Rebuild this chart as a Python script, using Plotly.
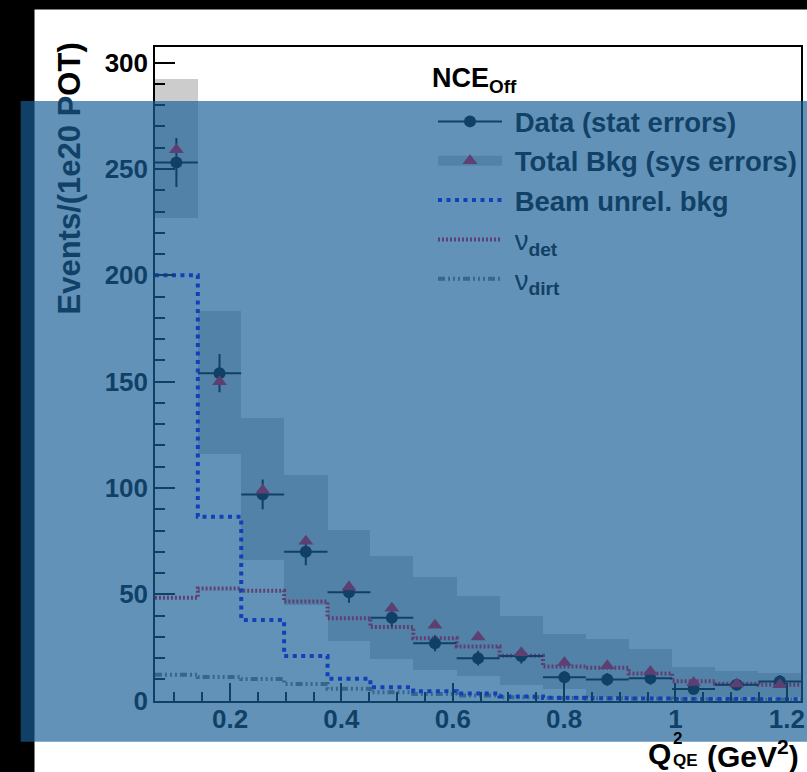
import plotly.graph_objects as go

# ---------------- data ----------------
bin_edges = [0.065, 0.142, 0.220, 0.297, 0.375, 0.452, 0.529, 0.607, 0.684,
             0.762, 0.839, 0.916, 0.994, 1.071, 1.149, 1.226]
data_vals = [253, 154, 97, 70, 51, 39, 27, 20, 21, 11, 10, 10.5, 5.5, 7.5, 9]
data_errs = [11.5, 9, 7, 6.3, 5, 4.3, 3.8, 3.5, 3.5, 3, 3, 3, 2.5, 2.5, 3]
bkg_vals = [259, 150, 99, 75, 53.5, 43.5, 35.5, 30, 22.5, 18, 16.4, 13.7, 8.6, 7.8, 7.5]
bkg_hi = [292, 183, 133, 106, 80, 68, 58, 49, 39.5, 31, 29, 24.4, 15.8, 14, 13]
bkg_lo = [227, 116, 66, 45, 28, 19.7, 14.5, 11.4, 7.2, 5.2, 1.5, 1.5, 1.5, 1.5, 1.5]
beam_vals = [200, 86.5, 38, 21, 10.3, 6.3, 4.4, 3.4, 2, 1.4, 1.2, 1, 0.8, 0.8, 0.7]
det_vals = [48.4, 52.8, 51.7, 46.6, 38.8, 34.6, 29.4, 25.5, 21.1, 16.1, 15.5, 12.8, 9.1, 8, 7.5]
dirt_vals = [12.2, 11.1, 10.2, 7.8, 5.6, 4.0, 3.2, 2.4, 1.6, 1.3, 1.0, 0.9, 0.7, 0.6, 0.6]

x_ticks = [0.2, 0.4, 0.6, 0.8, 1.0, 1.2]
x_tick_text = ["0.2", "0.4", "0.6", "0.8", "1", "1.2"]
y_ticks = [0, 50, 100, 150, 200, 250, 300]

# ---------------- styles ----------------
W, H = 807, 772
OV_RGB = (25, 95, 150)
OV_A = 0.68
RED = (235, 0, 40)
BLUE = (0, 0, 255)
GRAY = (120, 120, 120)
BAND = (204, 204, 204)
BLACK = (0, 0, 0)
FONT = "Liberation Sans"


def rgb(c):
    return "rgb(%d,%d,%d)" % c


def blend(c):
    return "rgb(%d,%d,%d)" % tuple(round(OV_A * o + (1 - OV_A) * v) for o, v in zip(OV_RGB, c))


def px(x):
    return x / W


def py(y):
    return 1 - y / H


centers = [(a + b) / 2 for a, b in zip(bin_edges[:-1], bin_edges[1:])]
half_w = [(b - a) / 2 for a, b in zip(bin_edges[:-1], bin_edges[1:])]
widths = [b - a for a, b in zip(bin_edges[:-1], bin_edges[1:])]

fig = go.Figure()

# systematic band
fig.add_trace(go.Bar(x=centers, y=[h - l for h, l in zip(bkg_hi, bkg_lo)], base=bkg_lo,
                     width=widths, marker=dict(color=rgb(BAND), line=dict(width=0)),
                     showlegend=False, hoverinfo="skip"))


def step(vals, color, dash, width=4):
    fig.add_trace(go.Scatter(x=bin_edges, y=vals + [vals[-1]], mode="lines", line_shape="hv",
                             line=dict(color=color, width=width, dash=dash),
                             showlegend=False, hoverinfo="skip"))


DIRT_DASH = "7px,3px,2px,3px,2px,3px,2px,3px"
DET_DASH = "2px,2px"
BEAM_DASH = "4px,4.5px"
step(dirt_vals, rgb(GRAY), DIRT_DASH)
step(det_vals, rgb(RED), DET_DASH)
step(beam_vals, rgb(BLUE), BEAM_DASH)

# data points
fig.add_trace(go.Scatter(x=centers, y=data_vals, mode="markers",
                         marker=dict(symbol="circle", size=12, color="black"),
                         error_y=dict(type="data", array=data_errs, color="black", thickness=2, width=0),
                         error_x=dict(type="data", array=half_w, color="black", thickness=2, width=0),
                         showlegend=False, hoverinfo="skip"))
# background triangles
fig.add_trace(go.Scatter(x=centers, y=bkg_vals, mode="markers",
                         marker=dict(symbol="triangle-up", size=13, color=rgb(RED)),
                         showlegend=False, hoverinfo="skip"))

# legend entries (colours as seen through the overlay)
SP = "&nbsp;"
fig.add_trace(go.Scatter(x=[None], y=[None], mode="lines+markers", name=SP + "<b>Data (stat errors)</b>",
                         line=dict(color=blend(BLACK), width=2),
                         marker=dict(symbol="circle", size=12, color=blend(BLACK)), legendgroup="a"))
fig.add_trace(go.Scatter(x=[None], y=[None], mode="lines+markers", name=SP + "<b>Total Bkg (sys errors)</b>",
                         line=dict(color=blend(BAND), width=28),
                         marker=dict(symbol="triangle-up", size=13, color=blend(RED)), legendgroup="b"))
fig.add_trace(go.Scatter(x=[None], y=[None], mode="lines", name=SP + "<b>Beam unrel. bkg</b>",
                         line=dict(color=blend(BLUE), width=4, dash=BEAM_DASH), legendgroup="c"))
fig.add_trace(go.Scatter(x=[None], y=[None], mode="lines", name=SP + "ν<b><sub>det</sub></b>",
                         line=dict(color=blend(RED), width=4, dash=DET_DASH), legendgroup="d"))
fig.add_trace(go.Scatter(x=[None], y=[None], mode="lines", name=SP + "ν<b><sub>dirt</sub></b>",
                         line=dict(color=blend(GRAY), width=4, dash=DIRT_DASH), legendgroup="e"))

axis_common = dict(showline=True, linecolor="black", linewidth=1.5, mirror=True, automargin=False,
                   showgrid=False, zeroline=False, ticks="inside", tickcolor="black",
                   tickwidth=1.5, tickfont=dict(family=FONT, size=26, color="black", weight="bold"))

fig.update_layout(
    width=W, height=H, autosize=False,
    margin=dict(l=0, r=0, t=0, b=0, pad=0),
    paper_bgcolor="white", plot_bgcolor="white",
    bargap=0,
    xaxis=dict(domain=[px(155), px(801)], range=[0.0651, 1.2255],
               tickvals=x_ticks, ticktext=x_tick_text, ticklen=18, ticklabelstandoff=-6,
               minor=dict(dtick=0.05, tick0=0, ticklen=9, ticks="inside", tickcolor="black", tickwidth=1.5),
               **axis_common),
    yaxis=dict(domain=[py(700.7), py(47.3)], range=[0, 307.2],
               tickvals=y_ticks, ticklen=20,
               minor=dict(dtick=10, tick0=0, ticklen=10, ticks="inside", tickcolor="black", tickwidth=1.5),
               **axis_common),
    showlegend=True,
    legend=dict(x=px(433), y=py(97), xanchor="left", yanchor="top",
                bgcolor="rgba(0,0,0,0)", borderwidth=0, itemwidth=64,
                tracegroupgap=0.6, itemsizing="trace",
                font=dict(family=FONT, size=27.5, color=blend(BLACK))),
    shapes=[
        dict(type="rect", xref="paper", yref="paper", x0=0, x1=1, y0=py(9.5), y1=1,
             fillcolor="black", line=dict(width=0), layer="above"),
        dict(type="rect", xref="paper", yref="paper", x0=0, x1=px(34.5), y0=0, y1=1,
             fillcolor="black", line=dict(width=0), layer="above"),
        dict(type="rect", xref="paper", yref="paper", x0=px(20.7), x1=1, y0=py(741.7), y1=py(101),
             fillcolor="rgba(%d,%d,%d,%.2f)" % (OV_RGB + (OV_A,)), line=dict(width=0), layer="above"),
    ],
    annotations=[
        dict(xref="paper", yref="paper", x=px(474), y=py(80), xanchor="center", yanchor="middle",
             text="<b>NCE<sub>Off</sub></b>", showarrow=False,
             font=dict(family=FONT, size=27, color="black")),
        dict(xref="paper", yref="paper", x=px(69.5), y=py(179), xanchor="center", yanchor="middle",
             textangle=-90, showarrow=False,
             text="<b><span style='color:%s'>Events/(1e20 P</span>OT)</b>" % blend(BLACK),
             font=dict(family=FONT, size=31, color="black")),
        # x-axis title: Q, stacked 2 / QE, then (GeV^2)
        dict(xref="paper", yref="paper", x=px(659), y=py(753), xanchor="center", yanchor="middle",
             text="<b>Q</b>", showarrow=False,
             font=dict(family=FONT, size=30, color="black")),
        dict(xref="paper", yref="paper", x=px(671), y=py(749), xanchor="left", yanchor="middle",
             text="<b>2<br>QE</b>", showarrow=False, align="left",
             font=dict(family=FONT, size=17, color="black")),
        dict(xref="paper", yref="paper", x=px(801), y=py(754), xanchor="right", yanchor="middle",
             text="<b>(GeV<sup>2</sup>)</b>", showarrow=False,
             font=dict(family=FONT, size=30, color="black")),
    ],
)

fig.write_html("out.html")
